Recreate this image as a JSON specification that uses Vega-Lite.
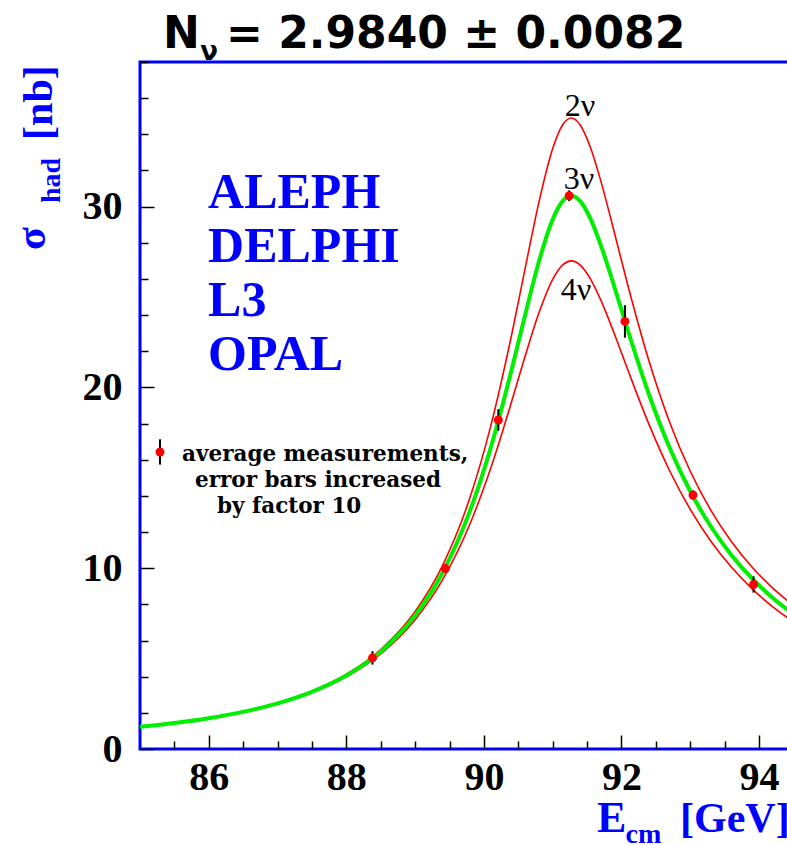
{
  "$schema": "https://vega.github.io/schema/vega-lite/v6.json",
  "width": 650,
  "height": 687,
  "autosize": {"type": "none"},
  "padding": {"left": 140, "top": 62, "right": 0, "bottom": 96},
  "background": "white",
  "config": {
    "view": {"stroke": "#0000ff", "strokeWidth": 3},
    "axis": {"grid": false, "domain": false, "labelFlush": false, "labelOverlap": false}
  },
  "datasets": {
    "curves": [
      {"E": 85, "s": 1.230, "nu": 2}, {"E": 85.5, "s": 1.443, "nu": 2}, {"E": 86, "s": 1.716, "nu": 2}, {"E": 86.5, "s": 2.072, "nu": 2},
      {"E": 87, "s": 2.549, "nu": 2}, {"E": 87.5, "s": 3.203, "nu": 2}, {"E": 88, "s": 4.133, "nu": 2}, {"E": 88.5, "s": 5.503, "nu": 2},
      {"E": 89, "s": 7.608, "nu": 2}, {"E": 89.4, "s": 10.162, "nu": 2}, {"E": 89.8, "s": 13.937, "nu": 2}, {"E": 90.1, "s": 17.872, "nu": 2},
      {"E": 90.4, "s": 22.859, "nu": 2}, {"E": 90.6, "s": 26.594, "nu": 2}, {"E": 90.8, "s": 30.248, "nu": 2}, {"E": 91.0, "s": 33.214, "nu": 2},
      {"E": 91.15, "s": 34.553, "nu": 2}, {"E": 91.27, "s": 34.9, "nu": 2}, {"E": 91.4, "s": 34.512, "nu": 2}, {"E": 91.55, "s": 33.255, "nu": 2},
      {"E": 91.7, "s": 31.411, "nu": 2}, {"E": 91.9, "s": 28.514, "nu": 2}, {"E": 92.1, "s": 25.537, "nu": 2}, {"E": 92.4, "s": 21.461, "nu": 2},
      {"E": 92.7, "s": 18.078, "nu": 2}, {"E": 93.0, "s": 15.364, "nu": 2}, {"E": 93.3, "s": 13.200, "nu": 2}, {"E": 93.6, "s": 11.465, "nu": 2},
      {"E": 93.9, "s": 10.057, "nu": 2}, {"E": 94.2, "s": 8.900, "nu": 2}, {"E": 94.5, "s": 7.938, "nu": 2},
      {"E": 85, "s": 1.224, "nu": 3}, {"E": 85.5, "s": 1.435, "nu": 3}, {"E": 86, "s": 1.704, "nu": 3}, {"E": 86.5, "s": 2.055, "nu": 3},
      {"E": 87, "s": 2.523, "nu": 3}, {"E": 87.5, "s": 3.163, "nu": 3}, {"E": 88, "s": 4.065, "nu": 3}, {"E": 88.5, "s": 5.384, "nu": 3},
      {"E": 89, "s": 7.382, "nu": 3}, {"E": 89.4, "s": 9.763, "nu": 3}, {"E": 89.8, "s": 13.196, "nu": 3}, {"E": 90.1, "s": 16.671, "nu": 3},
      {"E": 90.4, "s": 20.931, "nu": 3}, {"E": 90.6, "s": 24.020, "nu": 3}, {"E": 90.8, "s": 26.962, "nu": 3}, {"E": 91.0, "s": 29.294, "nu": 3},
      {"E": 91.15, "s": 30.331, "nu": 3}, {"E": 91.27, "s": 30.6, "nu": 3}, {"E": 91.4, "s": 30.301, "nu": 3}, {"E": 91.55, "s": 29.321, "nu": 3},
      {"E": 91.7, "s": 27.863, "nu": 3}, {"E": 91.9, "s": 25.524, "nu": 3}, {"E": 92.1, "s": 23.066, "nu": 3}, {"E": 92.4, "s": 19.611, "nu": 3},
      {"E": 92.7, "s": 16.666, "nu": 3}, {"E": 93.0, "s": 14.256, "nu": 3}, {"E": 93.3, "s": 12.305, "nu": 3}, {"E": 93.6, "s": 10.722, "nu": 3},
      {"E": 93.9, "s": 9.427, "nu": 3}, {"E": 94.2, "s": 8.356, "nu": 3}, {"E": 94.5, "s": 7.461, "nu": 3},
      {"E": 85, "s": 1.218, "nu": 4}, {"E": 85.5, "s": 1.426, "nu": 4}, {"E": 86, "s": 1.692, "nu": 4}, {"E": 86.5, "s": 2.037, "nu": 4},
      {"E": 87, "s": 2.495, "nu": 4}, {"E": 87.5, "s": 3.119, "nu": 4}, {"E": 88, "s": 3.994, "nu": 4}, {"E": 88.5, "s": 5.260, "nu": 4},
      {"E": 89, "s": 7.151, "nu": 4}, {"E": 89.4, "s": 9.363, "nu": 4}, {"E": 89.8, "s": 12.476, "nu": 4}, {"E": 90.1, "s": 15.540, "nu": 4},
      {"E": 90.4, "s": 19.178, "nu": 4}, {"E": 90.6, "s": 21.739, "nu": 4}, {"E": 90.8, "s": 24.129, "nu": 4}, {"E": 91.0, "s": 25.980, "nu": 4},
      {"E": 91.15, "s": 26.792, "nu": 4}, {"E": 91.27, "s": 27.0, "nu": 4}, {"E": 91.4, "s": 26.766, "nu": 4}, {"E": 91.55, "s": 25.994, "nu": 4},
      {"E": 91.7, "s": 24.829, "nu": 4}, {"E": 91.9, "s": 22.930, "nu": 4}, {"E": 92.1, "s": 20.891, "nu": 4}, {"E": 92.4, "s": 17.955, "nu": 4},
      {"E": 92.7, "s": 15.391, "nu": 4}, {"E": 93.0, "s": 13.250, "nu": 4}, {"E": 93.3, "s": 11.491, "nu": 4}, {"E": 93.6, "s": 10.048, "nu": 4},
      {"E": 93.9, "s": 8.857, "nu": 4}, {"E": 94.2, "s": 7.865, "nu": 4}, {"E": 94.5, "s": 7.032, "nu": 4}
    ],
    "meas": [
      {"E": 88.38, "s": 5.04, "lo": 4.67, "hi": 5.41},
      {"E": 89.44, "s": 9.98, "lo": 9.76, "hi": 10.20},
      {"E": 90.21, "s": 18.2, "lo": 17.6, "hi": 18.8},
      {"E": 91.24, "s": 30.6, "lo": 30.3, "hi": 30.9},
      {"E": 92.05, "s": 23.65, "lo": 22.75, "hi": 24.55},
      {"E": 93.04, "s": 14.05, "lo": 13.8, "hi": 14.3},
      {"E": 93.92, "s": 9.1, "lo": 8.65, "hi": 9.55}
    ]
  },
  "resolve": {"axis": {"x": "independent", "y": "independent"}},
  "layer": [
    {
      "data": {"name": "curves"},
      "transform": [{"filter": "datum.nu != 3"}],
      "mark": {"type": "line", "color": "#ff0000", "strokeWidth": 1.6, "interpolate": "monotone", "clip": true},
      "encoding": {
        "x": {"field": "E", "type": "quantitative", "scale": {"domain": [85, 94.45], "nice": false, "zero": false},
          "axis": {"orient": "bottom", "values": [85.5, 86.5, 87, 87.5, 88.5, 89, 89.5, 90.5, 91, 91.5, 92.5, 93, 93.5],
            "labels": false, "tickSize": -8, "tickColor": "black", "tickWidth": 1.5, "title": null}},
        "y": {"field": "s", "type": "quantitative", "scale": {"domain": [0, 38], "nice": false, "zero": false},
          "axis": {"orient": "left", "values": [2, 4, 6, 8, 12, 14, 16, 18, 22, 24, 26, 28, 32, 34, 36, 38],
            "labels": false, "tickSize": -8, "tickColor": "black", "tickWidth": 1.5, "title": null}},
        "detail": {"field": "nu"}
      }
    },
    {
      "data": {"name": "curves"},
      "transform": [{"filter": "datum.nu == 3"}],
      "mark": {"type": "line", "color": "#00ee00", "strokeWidth": 4, "interpolate": "monotone", "clip": true},
      "encoding": {
        "x": {"field": "E", "type": "quantitative", "scale": {"domain": [85, 94.45], "nice": false, "zero": false},
          "axis": {"orient": "bottom", "values": [86, 88, 90, 92, 94], "tickSize": -14, "tickColor": "black", "tickWidth": 1.5,
            "labelFont": "Liberation Serif", "labelFontWeight": "bold", "labelFontSize": 40, "labelColor": "black", "labelPadding": 22, "title": null}},
        "y": {"field": "s", "type": "quantitative", "scale": {"domain": [0, 38], "nice": false, "zero": false},
          "axis": {"orient": "left", "values": [0, 10, 20, 30], "tickSize": -14, "tickColor": "black", "tickWidth": 1.5,
            "labelFont": "Liberation Serif", "labelFontWeight": "bold", "labelFontSize": 40, "labelColor": "black", "labelPadding": 32, "title": null}}
      }
    },
    {
      "data": {"name": "meas"},
      "mark": {"type": "rule", "color": "black", "strokeWidth": 2},
      "encoding": {
        "x": {"field": "E", "type": "quantitative", "scale": {"domain": [85, 94.45], "nice": false, "zero": false}, "axis": null},
        "y": {"field": "lo", "type": "quantitative", "scale": {"domain": [0, 38], "nice": false, "zero": false}, "axis": null},
        "y2": {"field": "hi"}
      }
    },
    {
      "data": {"name": "meas"},
      "mark": {"type": "point", "filled": true, "color": "#ff0000", "opacity": 1, "size": 80},
      "encoding": {
        "x": {"field": "E", "type": "quantitative", "scale": {"domain": [85, 94.45], "nice": false, "zero": false}, "axis": null},
        "y": {"field": "s", "type": "quantitative", "scale": {"domain": [0, 38], "nice": false, "zero": false}, "axis": null}
      }
    },
    {
      "data": {"values": [{}]},
      "mark": {"type": "rule", "color": "black", "strokeWidth": 2},
      "encoding": {
        "x": {"datum": 85.291, "type": "quantitative", "scale": {"domain": [85, 94.45], "nice": false, "zero": false}, "axis": null},
        "y": {"datum": 15.73, "type": "quantitative", "scale": {"domain": [0, 38], "nice": false, "zero": false}, "axis": null},
        "y2": {"datum": 17.13}
      }
    },
    {
      "data": {"values": [{}]},
      "mark": {"type": "point", "filled": true, "color": "#ff0000", "opacity": 1, "size": 80},
      "encoding": {
        "x": {"datum": 85.291, "type": "quantitative", "scale": {"domain": [85, 94.45], "nice": false, "zero": false}, "axis": null},
        "y": {"datum": 16.43, "type": "quantitative", "scale": {"domain": [0, 38], "nice": false, "zero": false}, "axis": null}
      }
    },
    {
      "data": {"values": [{}]},
      "mark": {"type": "text", "text": ["ALEPH", "DELPHI", "L3", "OPAL"], "font": "Liberation Serif", "fontWeight": "bold", "fontSize": 50, "lineHeight": 54, "color": "#0000ff", "align": "left", "baseline": "alphabetic"},
      "encoding": {
        "x": {"datum": 85.989, "type": "quantitative", "scale": {"domain": [85, 94.45], "nice": false, "zero": false}, "axis": null},
        "y": {"datum": 29.95, "type": "quantitative", "scale": {"domain": [0, 38], "nice": false, "zero": false}, "axis": null}
      }
    },
    {
      "data": {"values": [{}]},
      "mark": {"type": "text", "text": "average measurements,", "font": "DejaVu Serif", "fontWeight": "bold", "fontSize": 21.5, "color": "black", "align": "left", "baseline": "alphabetic"},
      "encoding": {
        "x": {"datum": 85.611, "type": "quantitative", "scale": {"domain": [85, 94.45], "nice": false, "zero": false}, "axis": null},
        "y": {"datum": 15.93, "type": "quantitative", "scale": {"domain": [0, 38], "nice": false, "zero": false}, "axis": null}
      }
    },
    {
      "data": {"values": [{}]},
      "mark": {"type": "text", "text": "error bars increased", "font": "DejaVu Serif", "fontWeight": "bold", "fontSize": 21.5, "color": "black", "align": "left", "baseline": "alphabetic"},
      "encoding": {
        "x": {"datum": 85.80, "type": "quantitative", "scale": {"domain": [85, 94.45], "nice": false, "zero": false}, "axis": null},
        "y": {"datum": 14.49, "type": "quantitative", "scale": {"domain": [0, 38], "nice": false, "zero": false}, "axis": null}
      }
    },
    {
      "data": {"values": [{}]},
      "mark": {"type": "text", "text": "by factor 10", "font": "DejaVu Serif", "fontWeight": "bold", "fontSize": 21.5, "color": "black", "align": "left", "baseline": "alphabetic"},
      "encoding": {
        "x": {"datum": 86.12, "type": "quantitative", "scale": {"domain": [85, 94.45], "nice": false, "zero": false}, "axis": null},
        "y": {"datum": 13.05, "type": "quantitative", "scale": {"domain": [0, 38], "nice": false, "zero": false}, "axis": null}
      }
    },
    {
      "data": {"values": [{}]},
      "mark": {"type": "text", "text": "2ν", "font": "Liberation Serif", "fontSize": 32, "color": "black", "align": "center", "baseline": "alphabetic"},
      "encoding": {
        "x": {"datum": 91.397, "type": "quantitative", "scale": {"domain": [85, 94.45], "nice": false, "zero": false}, "axis": null},
        "y": {"datum": 35.0, "type": "quantitative", "scale": {"domain": [0, 38], "nice": false, "zero": false}, "axis": null}
      }
    },
    {
      "data": {"values": [{}]},
      "mark": {"type": "text", "text": "3ν", "font": "Liberation Serif", "fontSize": 32, "color": "black", "align": "center", "baseline": "alphabetic"},
      "encoding": {
        "x": {"datum": 91.382, "type": "quantitative", "scale": {"domain": [85, 94.45], "nice": false, "zero": false}, "axis": null},
        "y": {"datum": 30.95, "type": "quantitative", "scale": {"domain": [0, 38], "nice": false, "zero": false}, "axis": null}
      }
    },
    {
      "data": {"values": [{}]},
      "mark": {"type": "text", "text": "4ν", "font": "Liberation Serif", "fontSize": 32, "color": "black", "align": "center", "baseline": "alphabetic"},
      "encoding": {
        "x": {"datum": 91.339, "type": "quantitative", "scale": {"domain": [85, 94.45], "nice": false, "zero": false}, "axis": null},
        "y": {"datum": 24.84, "type": "quantitative", "scale": {"domain": [0, 38], "nice": false, "zero": false}, "axis": null}
      }
    },
    {
      "data": {"values": [{}]},
      "mark": {"type": "text", "text": "N", "font": "DejaVu Sans", "fontWeight": "bold", "fontSize": 44, "color": "black", "align": "left", "baseline": "alphabetic"},
      "encoding": {
        "x": {"datum": 85.334, "type": "quantitative", "scale": {"domain": [85, 94.45], "nice": false, "zero": false}, "axis": null},
        "y": {"datum": 38.77, "type": "quantitative", "scale": {"domain": [0, 38], "nice": false, "zero": false}, "axis": null}
      }
    },
    {
      "data": {"values": [{}]},
      "mark": {"type": "text", "text": "ν", "font": "DejaVu Sans", "fontWeight": "bold", "fontSize": 26, "color": "black", "align": "left", "baseline": "alphabetic"},
      "encoding": {
        "x": {"datum": 85.875, "type": "quantitative", "scale": {"domain": [85, 94.45], "nice": false, "zero": false}, "axis": null},
        "y": {"datum": 38.11, "type": "quantitative", "scale": {"domain": [0, 38], "nice": false, "zero": false}, "axis": null}
      }
    },
    {
      "data": {"values": [{}]},
      "mark": {"type": "text", "text": "= 2.9840 ± 0.0082", "font": "DejaVu Sans", "fontWeight": "bold", "fontSize": 44, "color": "black", "align": "left", "baseline": "alphabetic"},
      "encoding": {
        "x": {"datum": 86.25, "type": "quantitative", "scale": {"domain": [85, 94.45], "nice": false, "zero": false}, "axis": null},
        "y": {"datum": 38.77, "type": "quantitative", "scale": {"domain": [0, 38], "nice": false, "zero": false}, "axis": null}
      }
    },
    {
      "data": {"values": [{}]},
      "mark": {"type": "text", "text": "σ", "font": "Liberation Serif", "fontWeight": "bold", "fontSize": 42, "color": "#0000ff", "align": "left", "baseline": "alphabetic", "angle": 270},
      "encoding": {
        "x": {"datum": 83.619, "type": "quantitative", "scale": {"domain": [85, 94.45], "nice": false, "zero": false}, "axis": null},
        "y": {"datum": 27.60, "type": "quantitative", "scale": {"domain": [0, 38], "nice": false, "zero": false}, "axis": null}
      }
    },
    {
      "data": {"values": [{}]},
      "mark": {"type": "text", "text": "had", "font": "Liberation Serif", "fontWeight": "bold", "fontSize": 28, "color": "#0000ff", "align": "left", "baseline": "alphabetic", "angle": 270},
      "encoding": {
        "x": {"datum": 83.837, "type": "quantitative", "scale": {"domain": [85, 94.45], "nice": false, "zero": false}, "axis": null},
        "y": {"datum": 30.20, "type": "quantitative", "scale": {"domain": [0, 38], "nice": false, "zero": false}, "axis": null}
      }
    },
    {
      "data": {"values": [{}]},
      "mark": {"type": "text", "text": "[nb]", "font": "Liberation Serif", "fontWeight": "bold", "fontSize": 42, "color": "#0000ff", "align": "left", "baseline": "alphabetic", "angle": 270},
      "encoding": {
        "x": {"datum": 83.72, "type": "quantitative", "scale": {"domain": [85, 94.45], "nice": false, "zero": false}, "axis": null},
        "y": {"datum": 33.69, "type": "quantitative", "scale": {"domain": [0, 38], "nice": false, "zero": false}, "axis": null}
      }
    },
    {
      "data": {"values": [{}]},
      "mark": {"type": "text", "text": "E", "font": "Liberation Serif", "fontWeight": "bold", "fontSize": 44, "color": "#0000ff", "align": "left", "baseline": "alphabetic"},
      "encoding": {
        "x": {"datum": 91.644, "type": "quantitative", "scale": {"domain": [85, 94.45], "nice": false, "zero": false}, "axis": null},
        "y": {"datum": -4.591, "type": "quantitative", "scale": {"domain": [0, 38], "nice": false, "zero": false}, "axis": null}
      }
    },
    {
      "data": {"values": [{}]},
      "mark": {"type": "text", "text": "cm", "font": "Liberation Serif", "fontWeight": "bold", "fontSize": 28, "color": "#0000ff", "align": "left", "baseline": "alphabetic"},
      "encoding": {
        "x": {"datum": 92.06, "type": "quantitative", "scale": {"domain": [85, 94.45], "nice": false, "zero": false}, "axis": null},
        "y": {"datum": -5.20, "type": "quantitative", "scale": {"domain": [0, 38], "nice": false, "zero": false}, "axis": null}
      }
    },
    {
      "data": {"values": [{}]},
      "mark": {"type": "text", "text": "[GeV]", "font": "Liberation Serif", "fontWeight": "bold", "fontSize": 42, "color": "#0000ff", "align": "left", "baseline": "alphabetic"},
      "encoding": {
        "x": {"datum": 92.851, "type": "quantitative", "scale": {"domain": [85, 94.45], "nice": false, "zero": false}, "axis": null},
        "y": {"datum": -4.591, "type": "quantitative", "scale": {"domain": [0, 38], "nice": false, "zero": false}, "axis": null}
      }
    }
  ]
}
